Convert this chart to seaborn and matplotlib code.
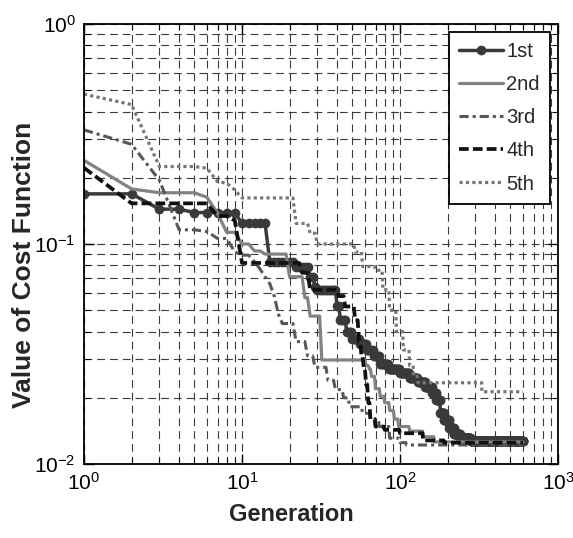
import numpy as np
import pandas as pd
import matplotlib
matplotlib.use("Agg")
import matplotlib.pyplot as plt
import seaborn as sns
from matplotlib.ticker import LogLocator, NullFormatter

N_GEN = 600

run_labels = ["1st", "2nd", "3rd", "4th", "5th"]

# Generations at which each run's best cost improved, and the new best cost
gen_1st = [1, 3, 5, 10, 15, 22, 27, 29, 30, 40, 42, 46, 50, 56, 62, 68, 75, 85,
           100, 115, 130, 145, 160, 170, 180, 190, 205, 220, 240, 280]
cost_1st = [0.169, 0.144, 0.139, 0.124, 0.083, 0.079, 0.071, 0.064, 0.062, 0.052,
            0.045, 0.040, 0.037, 0.035, 0.033, 0.031, 0.0285, 0.027, 0.026, 0.0245,
            0.0235, 0.0225, 0.021, 0.0195, 0.017, 0.0158, 0.0145, 0.0137, 0.0131, 0.0127]

gen_2nd = [1, 2, 3, 6, 7, 8, 10, 12, 14, 20, 25, 27, 32, 61, 64, 66, 70, 75, 80,
           86, 92, 98, 115, 140, 165]
cost_2nd = [0.24, 0.178, 0.171, 0.163, 0.138, 0.113, 0.100, 0.093, 0.090, 0.071,
            0.057, 0.047, 0.0297, 0.028, 0.027, 0.025, 0.022, 0.0203, 0.019, 0.0175,
            0.016, 0.0148, 0.0141, 0.0133, 0.0126]

gen_3rd = [1, 2, 3, 4, 6, 7, 9, 10, 12, 13, 14, 15, 16, 17, 18, 22, 26, 29, 35, 39,
           44, 48, 58, 65, 74, 86, 100, 110]
cost_3rd = [0.33, 0.284, 0.195, 0.116, 0.114, 0.106, 0.092, 0.089, 0.083, 0.077,
            0.071, 0.066, 0.058, 0.048, 0.0435, 0.036, 0.031, 0.0275, 0.024, 0.0218,
            0.020, 0.0182, 0.017, 0.016, 0.0148, 0.0131, 0.0125, 0.0122]

gen_4th = [1, 2, 7, 9, 10, 24, 27, 41, 45, 52, 55, 57, 59, 61, 63, 65, 70, 80, 100,
           140, 190]
cost_4th = [0.222, 0.153, 0.134, 0.128, 0.082, 0.074, 0.062, 0.058, 0.052, 0.045,
            0.036, 0.031, 0.027, 0.023, 0.019, 0.016, 0.0148, 0.0143, 0.0138,
            0.0128, 0.0125]

gen_5th = [1, 2, 3, 6, 7, 8, 9, 10, 22, 27, 30, 52, 58, 70, 78, 86, 95, 105, 115,
           122, 130, 330]
cost_5th = [0.48, 0.43, 0.225, 0.221, 0.192, 0.189, 0.176, 0.162, 0.124, 0.112,
            0.100, 0.092, 0.079, 0.076, 0.062, 0.050, 0.040, 0.033, 0.028, 0.025,
            0.0234, 0.0213]

x_ticks = [1, 10, 100, 1000]
y_ticks = [0.01, 0.1, 1]


def best_cost_history(change_gens, change_costs, n_gen):
    """Best cost at every generation: the last improvement holds until the next."""
    gens = np.arange(1, n_gen + 1)
    idx = np.searchsorted(np.asarray(change_gens), gens, side="right") - 1
    return gens, np.asarray(change_costs)[idx]


frames = []
for label, g, c in zip(run_labels,
                       [gen_1st, gen_2nd, gen_3rd, gen_4th, gen_5th],
                       [cost_1st, cost_2nd, cost_3rd, cost_4th, cost_5th]):
    gens, costs = best_cost_history(g, c, N_GEN)
    frames.append(pd.DataFrame({"Generation": gens, "Cost": costs, "Run": label}))
df = pd.concat(frames, ignore_index=True)

sns.set_theme(style="white")
plt.rcParams["font.family"] = ["Liberation Sans", "DejaVu Sans"]
plt.rcParams["mathtext.fontset"] = "custom"
plt.rcParams["mathtext.rm"] = "Liberation Sans"
plt.rcParams["mathtext.it"] = "Liberation Sans:italic"
plt.rcParams["mathtext.bf"] = "Liberation Sans:bold"
plt.rcParams["mathtext.default"] = "regular"

fig = plt.figure(figsize=(5.73, 5.38), dpi=100)
ax = fig.add_axes([84 / 573, 1 - 464 / 538, 474 / 573, 440 / 538])

styles = {
    "1st": dict(color="#3a3a3a", linestyle="-", linewidth=2.5, marker="o",
                markersize=7, markeredgewidth=0),
    "2nd": dict(color="#828282", linestyle="-", linewidth=2.3),
    "3rd": dict(color="#575757", linestyle=(0, (3, 1.3, 1, 1.3)), linewidth=2.2),
    "4th": dict(color="#111111", linestyle=(0, (2.6, 1.1)), linewidth=2.7),
    "5th": dict(color="#767676", linestyle=(0, (1, 1)), linewidth=2.3),
}

for label in run_labels:
    sub = df[df["Run"] == label]
    sns.lineplot(data=sub, x="Generation", y="Cost", ax=ax, label=label,
                 estimator=None, errorbar=None, sort=False, **styles[label])

ax.set_xscale("log")
ax.set_yscale("log")
ax.set_xlim(x_ticks[0], x_ticks[-1])
ax.set_ylim(y_ticks[0], y_ticks[-1])
ax.set_xticks(x_ticks)
ax.set_yticks(y_ticks)
ax.xaxis.set_minor_locator(LogLocator(base=10, subs=np.arange(2, 10), numticks=30))
ax.yaxis.set_minor_locator(LogLocator(base=10, subs=np.arange(2, 10), numticks=30))
ax.xaxis.set_minor_formatter(NullFormatter())
ax.yaxis.set_minor_formatter(NullFormatter())

ax.set_axisbelow(True)
ax.grid(True, which="both", linestyle=(0, (7, 4.5)), linewidth=0.8, color="#3a3a3a")

ax.tick_params(which="both", direction="in", top=True, right=True, bottom=True,
               left=True, colors="black")
ax.tick_params(which="major", length=7, width=1.0, labelsize=15, pad=6)
ax.tick_params(which="minor", length=4, width=0.8)
for side in ax.spines.values():
    side.set_color("black")
    side.set_linewidth(1.3)

ax.set_xlabel("Generation", fontsize=17, fontweight="bold")
ax.set_ylabel("Value of Cost Function", fontsize=19, fontweight="bold")
ax.xaxis.set_label_coords(0.437, -0.088)
ax.yaxis.set_label_coords(-0.102, 0.452)

leg = ax.legend(loc="upper right", fontsize=14.5, frameon=True, fancybox=False,
                framealpha=1, edgecolor="black", borderaxespad=0.4,
                labelspacing=0.7, handlelength=2.2, handletextpad=0.15,
                borderpad=0.5, numpoints=1)
leg.get_frame().set_linewidth(1.3)

fig.savefig("out.png", dpi=100)
